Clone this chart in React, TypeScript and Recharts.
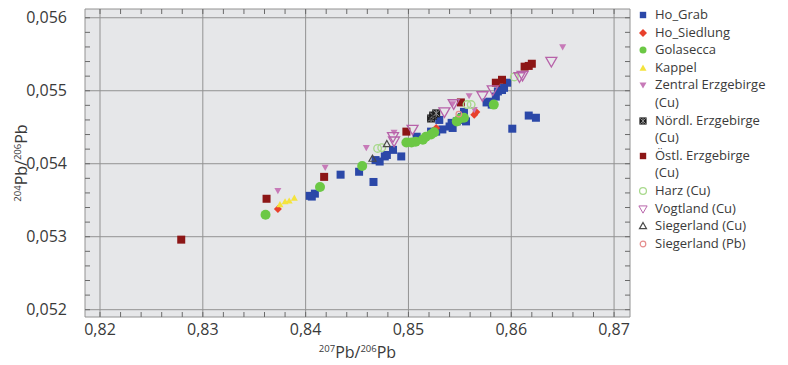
import React from 'react';
import { ScatterChart, Scatter, XAxis, YAxis, CartesianGrid, ReferenceArea, Label } from 'recharts';

// [207Pb/206Pb, 204Pb/206Pb]
const hoGrab: [number, number][] = [
  [0.8404, 0.05356], [0.8409, 0.05359], [0.8406, 0.05355], [0.8434, 0.05385], [0.8452, 0.05389],
  [0.8466, 0.05375], [0.8468, 0.05405], [0.8472, 0.05403], [0.8477, 0.0541], [0.8479, 0.05412],
  [0.8485, 0.05419], [0.8493, 0.0541], [0.8508, 0.05437], [0.851, 0.05433], [0.8522, 0.05444],
  [0.8527, 0.05444], [0.853, 0.0546], [0.8533, 0.05447], [0.854, 0.05451], [0.8542, 0.05456],
  [0.8543, 0.05449], [0.8547, 0.05458], [0.8552, 0.05464], [0.8552, 0.0546], [0.8554, 0.05471],
  [0.8556, 0.05458], [0.8576, 0.05484], [0.8579, 0.05485], [0.8581, 0.05481], [0.8585, 0.05492],
  [0.8587, 0.05499], [0.8591, 0.05501], [0.8593, 0.05504], [0.8596, 0.05511], [0.8601, 0.05448],
  [0.8617, 0.05466], [0.8624, 0.05463],
];
const hoSiedlung: [number, number][] = [
  [0.8373, 0.05338], [0.8527, 0.05449], [0.8564, 0.05467], [0.8566, 0.05471],
];
const golasecca: [number, number][] = [
  [0.8361, 0.0533], [0.8414, 0.05368], [0.8455, 0.05397], [0.8498, 0.05429], [0.8503, 0.05429],
  [0.8507, 0.0543], [0.8514, 0.05433], [0.8517, 0.05437], [0.8522, 0.0544], [0.8525, 0.05443],
  [0.8547, 0.05458], [0.855, 0.05462], [0.8554, 0.05463], [0.8583, 0.05481],
];
const kappel: [number, number][] = [
  [0.8375, 0.05344], [0.838, 0.05348], [0.8384, 0.05349], [0.8389, 0.05353],
];
const zentralErz: [number, number][] = [
  [0.8373, 0.05363], [0.8419, 0.05395], [0.8459, 0.05422], [0.8486, 0.05443], [0.8543, 0.05482],
  [0.8559, 0.05493], [0.8564, 0.05474], [0.865, 0.0556],
];
const noerdlErz: [number, number][] = [
  [0.8522, 0.05462], [0.8524, 0.05466], [0.8527, 0.05469],
];
const oestlErz: [number, number][] = [
  [0.8279, 0.05296], [0.8362, 0.05352], [0.8418, 0.05382], [0.8498, 0.05444], [0.8551, 0.05484],
  [0.8585, 0.05511], [0.8591, 0.05515], [0.8613, 0.05533], [0.8617, 0.05534], [0.862, 0.05537],
];
const harz: [number, number][] = [
  [0.847, 0.05421], [0.8474, 0.05422], [0.8557, 0.05481], [0.8561, 0.05481], [0.8603, 0.05519],
];
const vogtland: [number, number][] = [
  [0.8485, 0.05437], [0.8486, 0.05431], [0.8504, 0.05447], [0.8535, 0.05471], [0.8544, 0.05482],
  [0.8572, 0.05493], [0.8582, 0.05501], [0.8608, 0.05519], [0.8611, 0.05521], [0.8639, 0.0554],
];
const siegerlandCu: [number, number][] = [[0.8465, 0.05407], [0.8479, 0.05427]];
const siegerlandPb: [number, number][] = [[0.8549, 0.05468]];

const xTicks = [0.82, 0.83, 0.84, 0.85, 0.86, 0.87];
const yTicks = [0.052, 0.053, 0.054, 0.055, 0.056];
const xMinorTicks = [
  0.82, 0.822, 0.824, 0.826, 0.828, 0.83, 0.832, 0.834, 0.836, 0.838, 0.84, 0.842, 0.844,
  0.846, 0.848, 0.85, 0.852, 0.854, 0.856, 0.858, 0.86, 0.862, 0.864, 0.866, 0.868, 0.87,
];
const yMinorTicks = [
  0.052, 0.0522, 0.0524, 0.0526, 0.0528, 0.053, 0.0532, 0.0534, 0.0536, 0.0538, 0.054,
  0.0542, 0.0544, 0.0546, 0.0548, 0.055, 0.0552, 0.0554, 0.0556, 0.0558, 0.056,
];

const X_DOMAIN: [number, number] = [0.81854, 0.87155];
const Y_DOMAIN: [number, number] = [0.0519, 0.05612];

const FONT = '"Open Sans", sans-serif';
const TEXT = '#3a3a3a';
const FRAME = '#6a6a6a';

// plot box edges (chart margins below) and tick mark length
const PLOT_TOP = 9;
const PLOT_RIGHT = 630;
const TICK = 5;

// axis ids: 1 = data axes carrying the tick marks and labels, 2 = hidden axes feeding the grid
const MAIN = 1;
const GRID = 2;

const toPoints = (arr: [number, number][]) => arr.map(([x, y]) => ({ x, y }));
const comma = (v: number, digits: number) => v.toFixed(digits).replace('.', ',');
const isMajor = (list: number[], v: number) => list.some((t) => Math.abs(t - v) < 1e-9);

// marker shapes
const square = (fill: string, s = 8) => (p: any) => (
  <rect x={p.cx - s / 2} y={p.cy - s / 2} width={s} height={s} fill={fill} />
);
const dot = (fill: string, r: number, stroke = 'none', sw = 0) => (p: any) => (
  <circle cx={p.cx} cy={p.cy} r={r} fill={fill} stroke={stroke} strokeWidth={sw} />
);
const diamond = (fill: string, s = 4) => (p: any) => (
  <polygon points={`${p.cx},${p.cy - s} ${p.cx + s},${p.cy} ${p.cx},${p.cy + s} ${p.cx - s},${p.cy}`} fill={fill} />
);
const triUp = (fill: string, s: number, stroke = 'none', sw = 0) => (p: any) => (
  <polygon
    points={`${p.cx},${p.cy - s} ${p.cx + s},${p.cy + s * 0.75} ${p.cx - s},${p.cy + s * 0.75}`}
    fill={fill} stroke={stroke} strokeWidth={sw}
  />
);
const triDown = (fill: string, s: number, stroke = 'none', sw = 0) => (p: any) => (
  <polygon
    points={`${p.cx - s},${p.cy - s * 0.75} ${p.cx + s},${p.cy - s * 0.75} ${p.cx},${p.cy + s}`}
    fill={fill} stroke={stroke} strokeWidth={sw}
  />
);
const boxedStar = (p: any) => (
  <g>
    <rect x={p.cx - 4} y={p.cy - 4} width={8} height={8} fill="#1e1e1e" />
    <path d={`M${p.cx - 3} ${p.cy - 3}L${p.cx + 3} ${p.cy + 3}M${p.cx + 3} ${p.cy - 3}L${p.cx - 3} ${p.cy + 3}M${p.cx} ${p.cy - 3.5}L${p.cx} ${p.cy + 3.5}`} stroke="#9a9a9a" strokeWidth={1} />
  </g>
);

const series = [
  { name: 'Ho_Grab', data: hoGrab, shape: square('#2b48a8') },
  { name: 'Ho_Siedlung', data: hoSiedlung, shape: diamond('#e8402c') },
  { name: 'Golasecca', data: golasecca, shape: dot('#6cc845', 5) },
  { name: 'Kappel', data: kappel, shape: triUp('#f4e33c', 3.5) },
  { name: 'Zentral Erzgebirge (Cu)', data: zentralErz, shape: triDown('#c77ab8', 3.5) },
  { name: 'Nördl. Erzgebirge (Cu)', data: noerdlErz, shape: boxedStar },
  { name: 'Östl. Erzgebirge (Cu)', data: oestlErz, shape: square('#8c1616') },
  { name: 'Harz (Cu)', data: harz, shape: dot('none', 3.8, '#a8d98c', 1.4) },
  { name: 'Vogtland (Cu)', data: vogtland, shape: triDown('none', 5.5, '#b762a9', 1.3) },
  { name: 'Siegerland (Cu)', data: siegerlandCu, shape: triUp('none', 3.5, '#4a4a4a', 1.2) },
  { name: 'Siegerland (Pb)', data: siegerlandPb, shape: dot('none', 2.8, '#e58d8d', 1.2) },
];

// legend rows: the long names wrap onto a second line
const legendLines: string[][] = [
  ['Ho_Grab'], ['Ho_Siedlung'], ['Golasecca'], ['Kappel'],
  ['Zentral Erzgebirge', '(Cu)'], ['Nördl. Erzgebirge', '(Cu)'], ['Östl. Erzgebirge', '(Cu)'],
  ['Harz (Cu)'], ['Vogtland (Cu)'], ['Siegerland (Cu)'], ['Siegerland (Pb)'],
];
const legendMarkerScale = [0.8, 1, 0.7, 1, 1, 0.9, 0.8, 0.9, 0.75, 1, 1];

// x tick: inward marks on the bottom and top edge, label on the major values
const XTick = ({ x, y, payload }: any) => {
  const v = payload.value;
  return (
    <g>
      <line x1={x} x2={x} y1={y - TICK} y2={y} stroke={FRAME} />
      <line x1={x} x2={x} y1={PLOT_TOP} y2={PLOT_TOP + TICK} stroke={FRAME} />
      {isMajor(xTicks, v) && (
        <text x={x} y={y + 7} dy="0.71em" textAnchor="middle" fill={TEXT} fontFamily={FONT} fontSize={16}>
          {comma(v, 2)}
        </text>
      )}
    </g>
  );
};

// y tick: inward marks on the left and right edge, label on the major values
const YTick = ({ x, y, payload }: any) => {
  const v = payload.value;
  return (
    <g>
      <line x1={x} x2={x + TICK} y1={y} y2={y} stroke={FRAME} />
      <line x1={PLOT_RIGHT - TICK} x2={PLOT_RIGHT} y1={y} y2={y} stroke={FRAME} />
      {isMajor(yTicks, v) && (
        <text x={x - 18} y={y} dy="0.355em" textAnchor="end" fill={TEXT} fontFamily={FONT} fontSize={16}>
          {comma(v, 3)}
        </text>
      )}
    </g>
  );
};

const XTitle = ({ viewBox }: any) => {
  const cx = viewBox.x + viewBox.width / 2;
  return (
    <text x={cx} y={358} textAnchor="middle" fill={TEXT} fontFamily={FONT} fontSize={16}>
      <tspan fontSize={9.5} dy={-6}>207</tspan>
      <tspan dy={6}>Pb/</tspan>
      <tspan fontSize={9.5} dy={-6}>206</tspan>
      <tspan dy={6}>Pb</tspan>
    </text>
  );
};

const YTitle = ({ viewBox }: any) => {
  const cy = viewBox.y + viewBox.height / 2;
  const bx = 27;
  return (
    <text x={bx} y={cy} transform={`rotate(-90, ${bx}, ${cy})`} textAnchor="middle" fill={TEXT} fontFamily={FONT} fontSize={16}>
      <tspan fontSize={9.5} dy={-6}>204</tspan>
      <tspan dy={6}>Pb/</tspan>
      <tspan fontSize={9.5} dy={-6}>206</tspan>
      <tspan dy={6}>Pb</tspan>
    </text>
  );
};

const Legend = () => (
  <div style={{ position: 'absolute', left: 636, top: 6, fontFamily: FONT, fontSize: 13, lineHeight: '17.6px', color: TEXT }}>
    {series.map((s, i) => {
      const k = legendMarkerScale[i];
      return (
        <div key={s.name} style={{ display: 'flex', alignItems: 'flex-start' }}>
          <svg width={16} height={17.6} style={{ flex: 'none' }}>
            <g transform={`translate(7,9) scale(${k}) translate(-7,-9)`}>{s.shape({ cx: 7, cy: 9 })}</g>
          </svg>
          <div style={{ marginLeft: 3, whiteSpace: 'nowrap' }}>
            {legendLines[i].map((line, j) => (
              <div key={j}>{line}</div>
            ))}
          </div>
        </div>
      );
    })}
  </div>
);

const blank = () => '';

export default function App() {
  return (
    <div style={{ position: 'absolute', left: 0, top: 0, width: 788, height: 365, background: '#fff' }}>
      <ScatterChart width={788} height={365} margin={{ top: PLOT_TOP, right: 788 - PLOT_RIGHT, bottom: 0, left: 0 }}>
        <CartesianGrid xAxisId={GRID} yAxisId={GRID} fill="#e6e7e9" stroke="#929292" strokeWidth={1} />
        <XAxis xAxisId={GRID} type="number" dataKey="x" domain={X_DOMAIN} allowDataOverflow ticks={xTicks} hide />
        <YAxis yAxisId={GRID} type="number" dataKey="y" domain={Y_DOMAIN} allowDataOverflow ticks={yTicks} hide />
        <XAxis
          xAxisId={MAIN}
          type="number"
          dataKey="x"
          domain={X_DOMAIN}
          allowDataOverflow
          ticks={xMinorTicks}
          tickFormatter={blank}
          tick={<XTick />}
          minTickGap={0}
          axisLine={false}
          tickLine={false}
          tickSize={0}
          tickMargin={0}
          height={48}
        >
          <Label content={<XTitle />} />
        </XAxis>
        <YAxis
          yAxisId={MAIN}
          type="number"
          dataKey="y"
          domain={Y_DOMAIN}
          allowDataOverflow
          ticks={yMinorTicks}
          tickFormatter={blank}
          tick={<YTick />}
          minTickGap={0}
          axisLine={false}
          tickLine={false}
          tickSize={0}
          tickMargin={0}
          width={85}
        >
          <Label content={<YTitle />} />
        </YAxis>
        <ReferenceArea xAxisId={MAIN} yAxisId={MAIN} fill="none" stroke={FRAME} strokeWidth={1.2} fillOpacity={0} ifOverflow="visible" />
        {series.map((s) => (
          <Scatter
            key={s.name}
            name={s.name}
            data={toPoints(s.data)}
            shape={s.shape}
            xAxisId={MAIN}
            yAxisId={MAIN}
            isAnimationActive={false}
          />
        ))}
      </ScatterChart>
      <Legend />
    </div>
  );
}
